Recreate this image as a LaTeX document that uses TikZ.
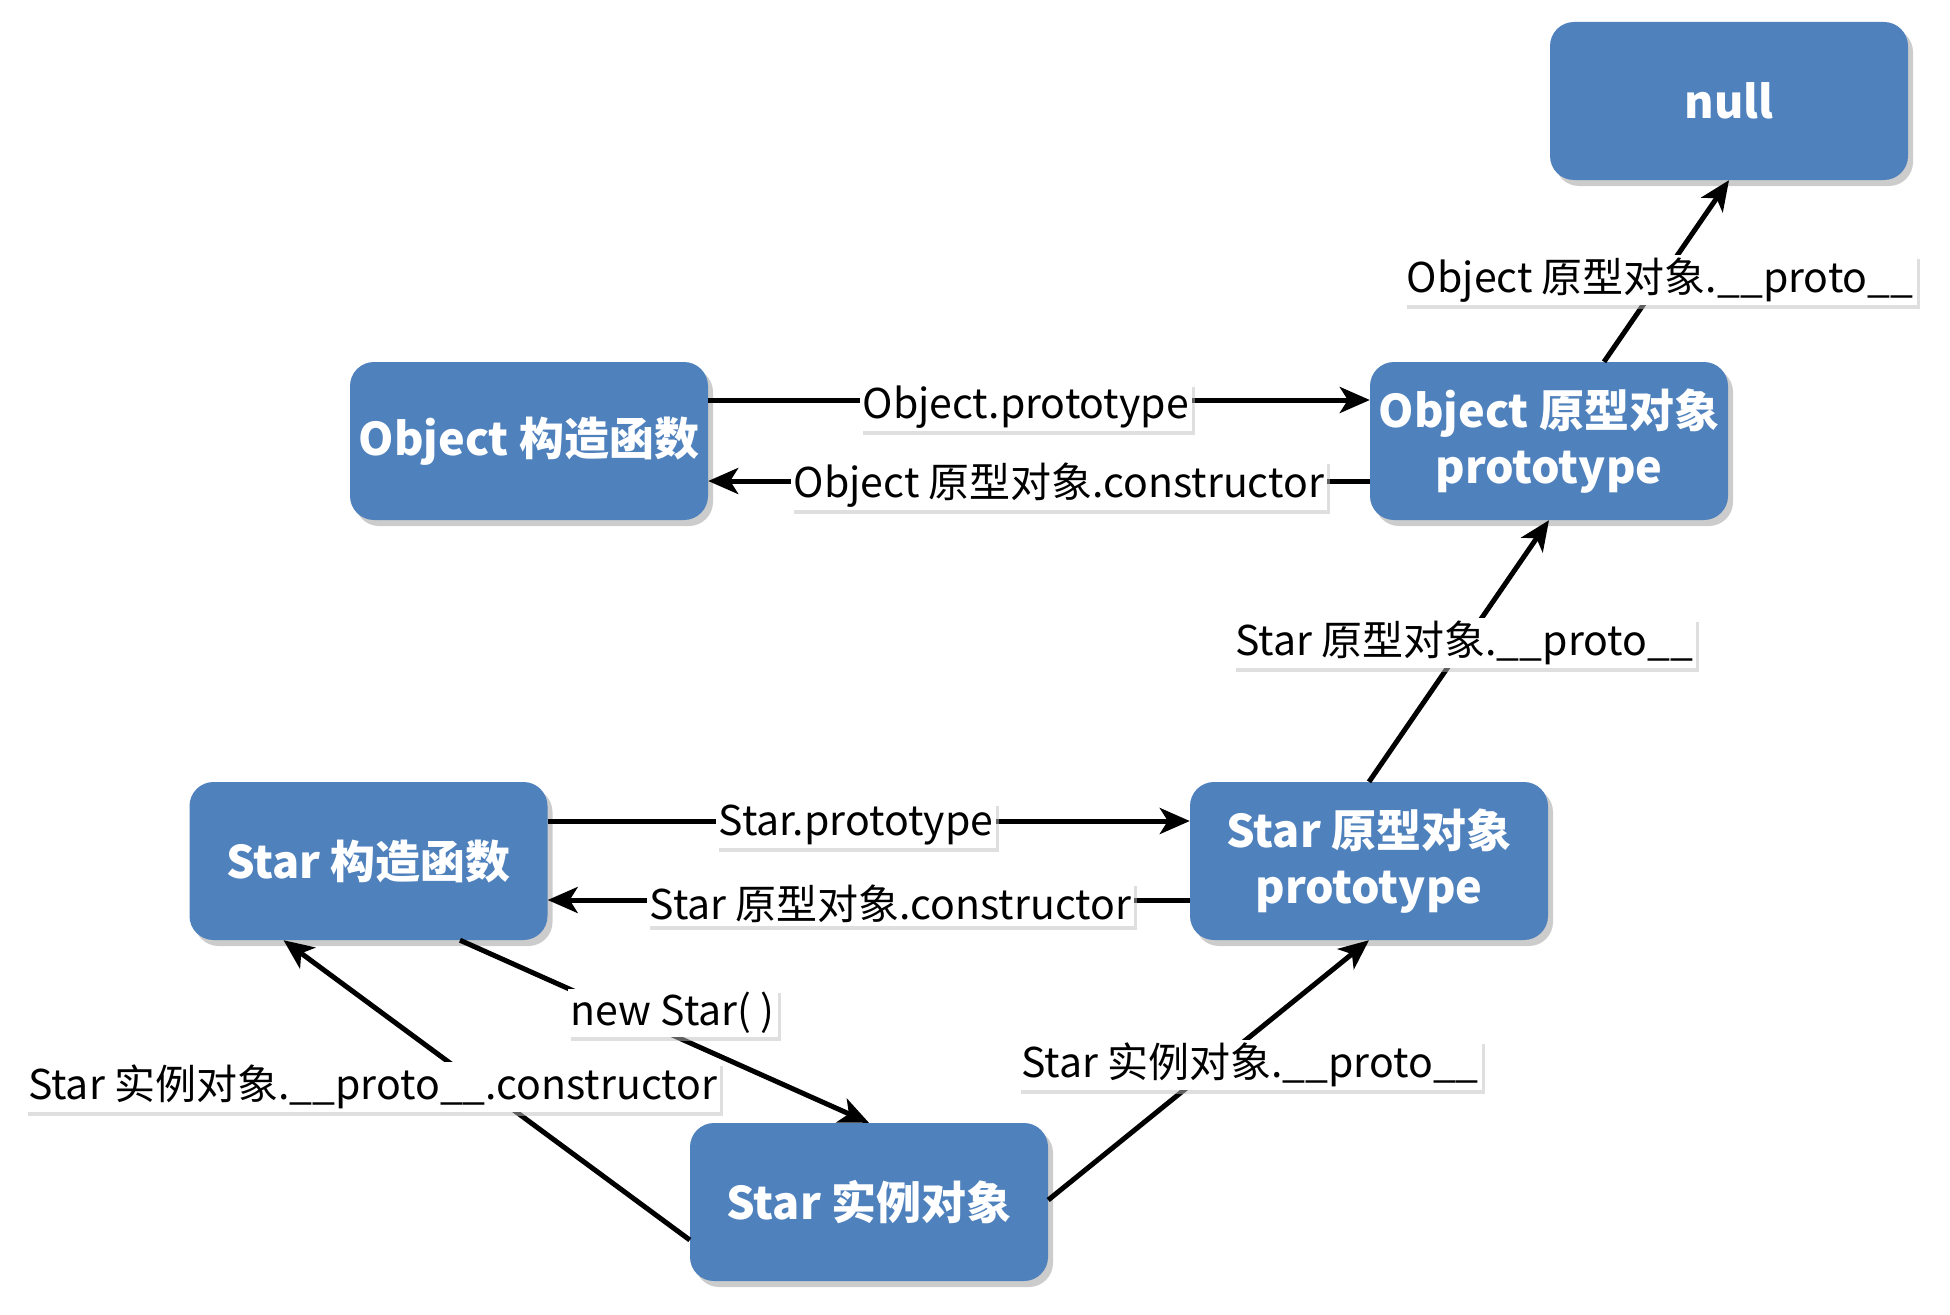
\documentclass[tikz,border=0pt]{standalone}
\usepackage{fontspec}
\setmainfont{Noto Sans CJK SC}
\usetikzlibrary{arrows.meta,shadows}
\definecolor{boxblue}{HTML}{4F81BD}
\tikzset{
  box/.style={draw=none, fill=boxblue, rounded corners=24pt, minimum width=358pt, minimum height=158pt,
    text=white, align=center, font=\fontsize{45}{56}\selectfont\bfseries,
    drop shadow={shadow xshift=5pt, shadow yshift=-6pt, fill=black!40, opacity=0.5}},
  arr/.style={line width=5pt, -{Stealth[length=30pt,width=26pt,inset=8pt]}},
  lbl/.style={fill=white, text=black, inner sep=3pt, font=\fontsize{41}{46}\selectfont,
    drop shadow={shadow xshift=3pt, shadow yshift=-4pt, fill=black!25, opacity=0.5}}
}
\begin{document}
\begin{tikzpicture}[x=1pt,y=-1pt]
\useasboundingbox (0,0) rectangle (1950,1314);
\node[box] (null) at (1729,101) {null};
\node[box] (objC) at (529,441) {Object 构造函数};
\node[box] (objP) at (1549,441) {Object 原型对象\\prototype};
\node[box] (starC) at (368.5,861) {Star 构造函数};
\node[box] (starP) at (1369,861) {Star 原型对象\\prototype};
\node[box] (inst) at (869,1202) {Star 实例对象};

\draw[arr] ([yshift=41pt]objC.east) -- node[lbl, pos=0.48, yshift=-7pt] {Object.prototype} ([yshift=41pt]objP.west);
\draw[arr] ([yshift=-40pt]objP.west) -- node[lbl, pos=0.47, yshift=-4pt] {Object 原型对象.constructor} ([yshift=-40pt]objC.east);
\draw[arr] ([yshift=40pt]starC.east) -- node[lbl, pos=0.48, yshift=-4pt] {Star.prototype} ([yshift=40pt]starP.west);
\draw[arr] ([yshift=-39pt]starP.west) -- node[lbl, pos=0.466, yshift=-4pt] {Star 原型对象.constructor} ([yshift=-39pt]starC.east);
\draw[arr] (starP.north) -- node[lbl, pos=0.53] {Star 原型对象.\_\_proto\_\_} (objP.south);
\draw[arr] ([xshift=55pt]objP.north) -- node[lbl, pos=0.45] {Object 原型对象.\_\_proto\_\_} (null.south);
\draw[arr] ([yshift=2pt]inst.east) -- node[lbl, pos=0.52, xshift=35pt] {Star 实例对象.\_\_proto\_\_} (starP.south);
\draw[arr] ([xshift=91.5pt]starC.south) -- node[lbl, pos=0.52, yshift=22pt] {new Star( )} (inst.north);
\draw[arr] ([yshift=-38pt]inst.west) -- node[lbl, pos=0.51, xshift=-110pt] {Star 实例对象.\_\_proto\_\_.constructor} ([xshift=-85pt]starC.south);
\end{tikzpicture}
\end{document}
